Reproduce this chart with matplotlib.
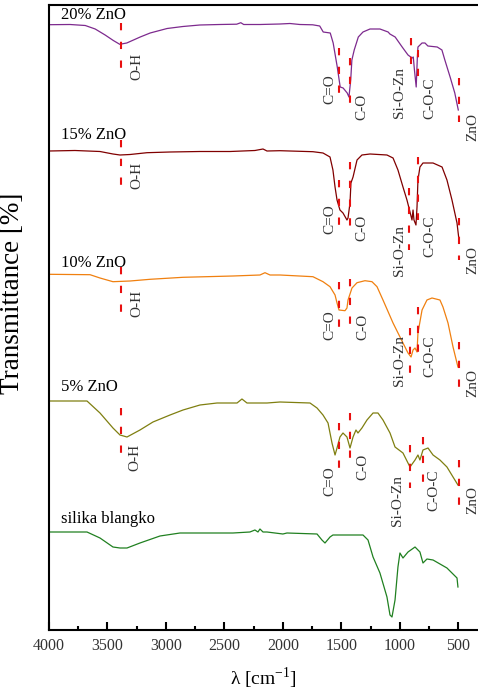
import matplotlib
matplotlib.use("Agg")
import matplotlib.pyplot as plt
from matplotlib.ticker import MultipleLocator

plt.rcParams['font.family'] = ['Liberation Serif', 'DejaVu Serif']
plt.rcParams['mathtext.fontset'] = 'custom'
plt.rcParams['mathtext.rm'] = 'Liberation Serif'

# spectra: wavenumber [cm-1] and transmittance relative to each baseline
wn_20 = [4000, 3820, 3690, 3605, 3520, 3450, 3395, 3335, 3220, 3135, 2990, 2855, 2710, 2540,
         2395, 2360, 2335, 2195, 2025, 1940, 1855, 1745, 1685, 1655, 1595, 1570, 1535, 1510,
         1485, 1450, 1435, 1420, 1410, 1390, 1355, 1315, 1255, 1170, 1100, 1085, 1040, 980,
         930, 895, 885, 875, 860, 850, 845, 810, 785, 760, 680, 640, 615, 570, 530, 500]
t_20 = [0.3, 0.5, -0.5, -4, -10, -15.5, -19.3, -18, -12, -8, -3.5, -1.5, 0, 0.5,
        0.8, 2.3, 0.5, 0.5, 1, 1.5, 0.5, 0.2, -1, -7, -8, -18, -42, -62,
        -63, -68, -72, -55, -35, -25, -12, -7, -4, -4, -7, -9, -12, -22,
        -30, -33, -32, -45, -62, -32, -22, -18, -18, -21, -22, -25, -35, -52, -68, -85]

wn_15 = [4000, 3778, 3564, 3453, 3393, 3307, 3162, 2965, 2709, 2452,
         2239, 2170, 2136, 2025, 1743, 1657, 1597, 1572, 1554, 1537,
         1512, 1486, 1452, 1443, 1426, 1418, 1400, 1366, 1324, 1255,
         1110, 1058, 1016, 973, 939, 913, 896, 887, 879, 862,
         853, 845, 828, 802, 716, 639, 597, 554, 511, 494]
t_15 = [0, 0.5, -0.5, -3, -4, -3.5, -1.7, -1, -0.5, -0.5,
        0.5, 2, 0, 0.3, -0.7, -2, -6, -19, -36, -49,
        -59, -62, -69, -67, -52, -32, -26, -9, -4, -3,
        -4, -7, -19, -36, -49, -61, -69, -59, -69, -74,
        -56, -29, -16, -12, -12, -16, -29, -49, -72, -89]

wn_10 = [4000, 3649, 3564, 3453, 3307, 3136, 2854, 2427, 2196, 2153,
         2110, 2025, 1743, 1657, 1597, 1554, 1537, 1520, 1469, 1452,
         1443, 1409, 1366, 1298, 1238, 1195, 1144, 1058, 973, 930,
         904, 887, 870, 853, 845, 810, 768, 725, 657, 631,
         588, 545, 503]
t_10 = [0.7, 0.3, -3, -6.7, -6, -4.3, -2.3, -1, 0, 2.3,
        0, 0, -1.7, -6.7, -11.7, -20, -28, -35, -35.7, -33,
        -25, -13, -7.7, -5.7, -6.7, -11.7, -25, -48, -68, -78,
        -82, -75, -73, -77, -58, -35, -25, -23, -25, -32,
        -48, -72, -92]

wn_5 = [4000, 3675, 3564, 3453, 3393, 3333, 3222, 3111, 2965, 2854,
        2709, 2563, 2392, 2350, 2307, 2136, 2025, 1768, 1708, 1657,
        1614, 1580, 1554, 1537, 1512, 1486, 1452, 1426, 1400, 1375,
        1358, 1324, 1281, 1229, 1187, 1144, 1084, 1041, 973, 913,
        870, 845, 828, 802, 759, 716, 657, 597, 545, 503]
t_5 = [0, 0, -12, -27, -34, -36, -29, -21, -14, -9,
       -4, -2, -2, 2, -2, -2, -1, -2, -7, -14,
       -22, -42, -54, -47, -36, -32, -36, -47, -36, -29,
       -32, -27, -19, -12, -12, -19, -32, -46, -52, -66,
       -59, -54, -59, -49, -47, -54, -59, -66, -76, -84]

wn_si = [4000, 3675, 3564, 3453, 3393, 3333, 3222, 3051, 2880, 2427,
         2282, 2239, 2213, 2196, 2170, 2136, 2068, 2000, 1965, 1708,
         1666, 1640, 1597, 1572, 1315, 1272, 1229, 1170, 1110, 1084,
         1067, 1041, 1016, 999, 973, 930, 870, 828, 802, 768,
         716, 597, 511, 503]
t_si = [0, 0, -6, -15, -16, -16, -11, -4, -1, -1,
        0, 2, 0, 3, 0, 0, -1, -2, -1, -2,
        -8, -11, -5, -3, -3, -8, -25, -41, -65, -83,
        -85, -68, -35, -21, -26, -20, -15, -20, -31, -27,
        -28, -36, -46, -55]

names = ['20% ZnO', '15% ZnO', '10% ZnO', '5% ZnO', 'silika blangko']
colors = ['#7d2a8e', '#800000', '#f08010', '#7f7f10', '#208020']
offsets = [605, 479, 355, 229, 98]
name_dy = [10, 16, 12, 14, 13]

# band assignments
bands = ['O-H', 'C=O', 'C-O', 'Si-O-Zn', 'C-O-C', 'ZnO']
band_wn = {
    '20% ZnO': [3385, 1520, 1426, 904, 845, 494],
    '15% ZnO': [3385, 1520, 1426, 922, 845, 494],
    '10% ZnO': [3385, 1520, 1426, 913, 845, 494],
    '5% ZnO': [3385, 1520, 1426, 913, 802, 494],
}
# dashed marker extents (top, bottom) relative to baseline
mark_span = {
    '20% ZnO': [(2, -45), (-23, -72), (-33, -78), (-13, -40), (-25, -58), (-53, -97)],
    '15% ZnO': [(11, -34), (-29, -74), (-11, -76), (-37, -99), (-6, -69), (-67, -109)],
    '10% ZnO': [(8, -38), (-7, -53), (-4, -50), (-53, -98), (-32, -78), (-67, -112)],
    '5% ZnO': [(-7, -54), (-22, -69), (-12, -59), (-44, -87), (-36, -82), (-59, -109)],
}
label_x = {
    '20% ZnO': [3247, 1597, 1324, 1007, 742, 374],
    '15% ZnO': [3247, 1597, 1324, 1007, 742, 374],
    '10% ZnO': [3247, 1597, 1315, 1007, 742, 374],
    '5% ZnO': [3264, 1597, 1315, 1016, 708, 374],
}
label_y = {
    '20% ZnO': [-41, -64, -82, -68, -73, -102],
    '15% ZnO': [-24, -68, -77, -99, -85, -109],
    '10% ZnO': [-28, -50, -52, -85, -81, -108],
    '5% ZnO': [-56, -80, -66, -99, -89, -99],
}

spectra = [(wn_20, t_20), (wn_15, t_15), (wn_10, t_10), (wn_5, t_5), (wn_si, t_si)]

fig = plt.figure(figsize=(4.78, 6.92), dpi=100)
ax = fig.add_axes([49 / 478, 62 / 692, 1 - 49 / 478, 625 / 692])

for (wn, t), name, c, off, dy in zip(spectra, names, colors, offsets, name_dy):
    ax.plot(wn, [off + v for v in t], color=c, lw=0.9)
    ax.text(3900, off + dy, name, fontsize=12, ha='left', va='center')
    if name in band_wn:
        for k, b in enumerate(bands):
            top, bot = mark_span[name][k]
            ax.plot([band_wn[name][k]] * 2, [off + top, off + bot], color='#e81010',
                    lw=1.5, dashes=(3.5, 5.5))
            ax.text(label_x[name][k], off + label_y[name][k], b, rotation=90,
                    fontsize=11, ha='center', va='center', color='#333333')

ax.set_xlim(4000, 331.5)
ax.set_ylim(0, 625)
ax.xaxis.set_major_locator(MultipleLocator(500))
ax.xaxis.set_minor_locator(MultipleLocator(250))
ax.tick_params(axis='x', which='major', direction='in', length=5.5, width=1.5,
               labelsize=11.5, pad=6, labelcolor='#333333')
ax.tick_params(axis='x', which='minor', direction='in', length=3, width=1.5)
ax.tick_params(axis='y', left=False, labelleft=False)
ax.set_yticks([])
ax.spines['right'].set_visible(False)
for s in ['left', 'top', 'bottom']:
    ax.spines[s].set_linewidth(1.5)

ax.set_xlabel(r'λ [cm$^{\mathregular{-1}}$]', fontsize=14, labelpad=8)
ax.set_ylabel('Transmittance [%]', fontsize=19.5)
ax.yaxis.set_label_coords(-0.056, 0.538)

fig.savefig('out.png', dpi=100)
